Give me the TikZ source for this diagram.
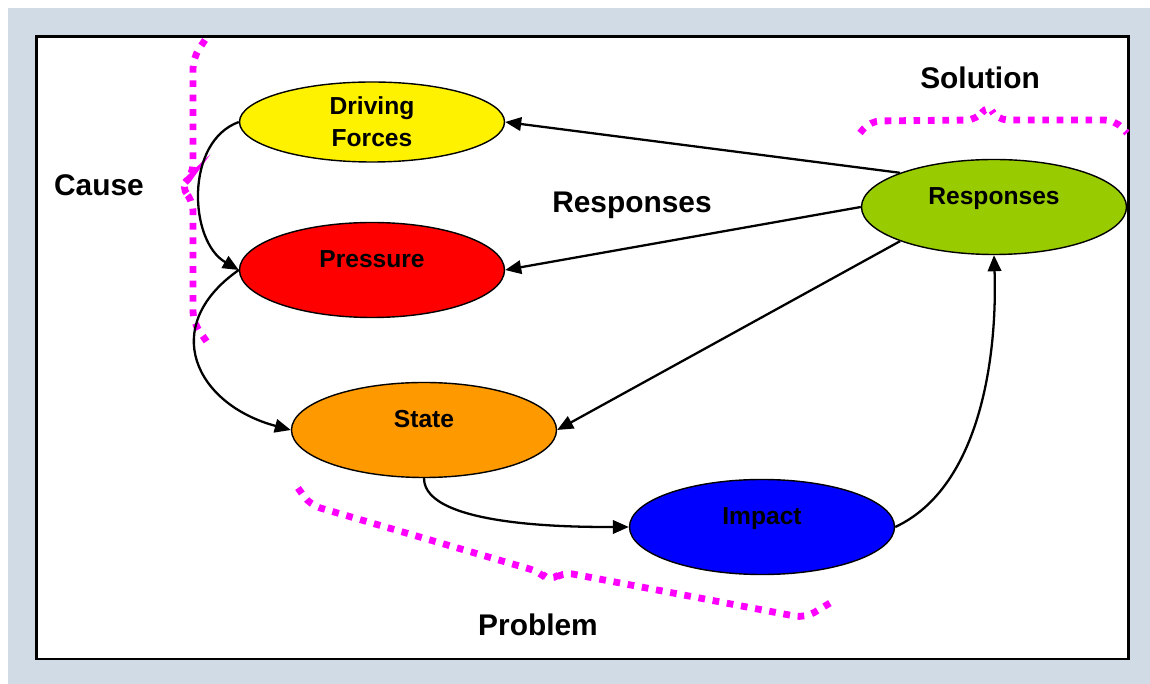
\documentclass[tikz,border=0pt]{standalone}
\usepackage{fontspec}
\setmainfont{Liberation Sans}
\usepackage{tikz}
\usetikzlibrary{shapes.geometric,arrows.meta}

\definecolor{bgblue}{HTML}{D1DBE6}
\definecolor{respgreen}{HTML}{99CC00}
\definecolor{stateorange}{HTML}{FF9900}
\definecolor{bracepink}{RGB}{255,0,255}

\newcommand{\up}[1]{\raisebox{1.5pt}[0pt][0pt]{#1}}

\begin{document}
\begin{tikzpicture}[blob/.style={ellipse, draw, line width=.8pt, minimum width=5.3cm, minimum height=1.9cm, inner sep=0pt, align=center, font=\bfseries\fontsize{14}{18}\selectfont},
  conn/.style={-{Triangle[length=3.2mm,width=2.7mm]}, line width=1.3pt},
  brace/.style={bracepink, line width=3.9pt, dash pattern=on 3.8pt off 4.4pt, rounded corners=6pt},
  lbl/.style={font=\bfseries\fontsize{17}{20}\selectfont}]
  \useasboundingbox (0cm,0cm) rectangle (23cm,13.68cm);
  \fill[bgblue] (0.16cm,0cm) rectangle (23cm,13.52cm);
  \draw[fill=white, line width=1.7pt] (0.73cm,0.5cm) rectangle (22.56cm,12.95cm);

  % braces
  \draw[brace] (4.10cm,12.88cm) -- (3.86cm,12.52cm) -- (3.86cm,10.18cm) -- (3.60cm,9.94cm) -- (3.86cm,9.68cm) -- (3.86cm,7.24cm) -- (4.14cm,6.84cm);
  \draw[brace] (17.20cm,11.02cm) -- (17.40cm,11.26cm) -- (19.54cm,11.28cm) -- (19.76cm,11.60cm) -- (19.94cm,11.28cm) -- (22.30cm,11.28cm) -- (22.54cm,11.02cm);
  \draw[brace] (5.96cm,3.92cm) -- (6.20cm,3.58cm) -- (10.80cm,2.24cm) -- (11.00cm,2.04cm) -- (11.24cm,2.24cm) -- (16.10cm,1.32cm) -- (16.60cm,1.62cm);

  \node[blob, fill=yellow, minimum height=1.6cm] (df) at (7.44cm,11.24cm) {Driving\\Forces};
  \node[blob, fill=red] (pres) at (7.44cm,8.28cm) {\up{Pressure}};
  \node[blob, fill=stateorange] (state) at (8.48cm,5.08cm) {\up{State}};
  \node[blob, fill=blue] (impact) at (15.24cm,3.14cm) {\up{Impact}};
  \node[blob, fill=respgreen] (resp) at (19.88cm,9.54cm) {\up{Responses}};

  \node[lbl] (cause) at (1.98cm,9.98cm) {Cause};
  \node[lbl] (solution) at (19.6cm,12.12cm) {Solution};
  \node[lbl] (resplbl) at (12.64cm,9.58cm) {Responses};
  \node[lbl] (problem) at (10.76cm,1.18cm) {Problem};

  \draw[conn] (resp.160) -- (df.east);
  \draw[conn] (resp.west) -- (pres.east);
  \draw[conn] (resp.200) -- (state.east);
  \draw[conn] (impact.east) to[out=25,in=-88,looseness=.85] (resp.south);
  \draw[conn] (state.south) to[out=-90,in=180,looseness=.6] (impact.west);
  \draw[conn] (df.west) to[out=200,in=150,looseness=1] (pres.west);
  \draw[conn] (pres.west) to[out=215,in=165,looseness=1.5] (state.west);
\end{tikzpicture}
\end{document}
